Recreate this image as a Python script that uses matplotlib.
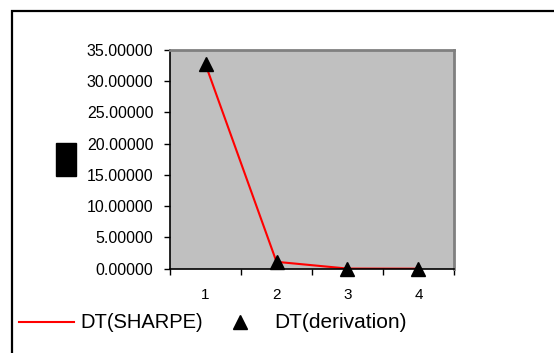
import matplotlib.pyplot as plt
from matplotlib.patches import Rectangle
from matplotlib.lines import Line2D

plt.rcParams['font.family'] = ['Liberation Sans', 'DejaVu Sans']

steps = [1, 2, 3, 4]
dt_sharpe = [32.7, 1.1, 0.02, 0.0]
dt_derivation = [32.75, 1.0, 0.0, 0.0]
yticks = [0, 5, 10, 15, 20, 25, 30, 35]

W, H = 554, 353
fig = plt.figure(figsize=(W / 100, H / 100), dpi=100)
ax = fig.add_axes([170 / W, 1 - 268.7 / H, 284 / W, 218.7 / H])
ax.set_facecolor('#c0c0c0')

ax.plot(steps, dt_sharpe, color='#ff0000', lw=1.5, zorder=2)
ax.plot(steps, dt_derivation, ls='none', marker='^', ms=10, color='black',
        zorder=3, clip_on=False)

ax.set_xlim(0.5, 4.5)
ax.set_ylim(0, 35)
ax.set_yticks(yticks)
ax.set_yticklabels(['%.5f' % v for v in yticks], fontsize=11.5)
ax.set_xticks([0.5, 1.5, 2.5, 3.5, 4.5])
ax.set_xticklabels([])
ax.set_xticks(steps, minor=True)
ax.set_xticklabels([str(s) for s in steps], minor=True, fontsize=11)
ax.tick_params(axis='x', which='minor', length=0, pad=14)
ax.tick_params(axis='x', which='major', length=4, width=1, direction='out')
ax.tick_params(axis='y', length=4, width=1, direction='out', pad=8)

for side in ['top', 'right']:
    ax.spines[side].set_color('#808080')
    ax.spines[side].set_linewidth(2)
for side in ['left', 'bottom']:
    ax.spines[side].set_color('black')
    ax.spines[side].set_linewidth(1.2)

# outer chart frame (runs off the right and bottom edges)
top = 1 - 11 / H
fig.add_artist(Rectangle((11.5 / W, -0.2), 1.2, top + 0.2,
                         transform=fig.transFigure, fill=False, ec='black', lw=1.6))
# y-axis title block
fig.add_artist(Rectangle((56 / W, 1 - 176 / H), 20 / W, 33 / H,
                         transform=fig.transFigure, color='black'))

# legend row
ly = 1 - 322 / H
fig.add_artist(Line2D([19 / W, 74 / W], [ly, ly], transform=fig.transFigure,
                      color='#ff0000', lw=1.5))
fig.text(80 / W, ly, 'DT(SHARPE)', fontsize=14.5, va='center', ha='left')
fig.add_artist(Line2D([240 / W], [ly], transform=fig.transFigure, ls='none',
                      marker='^', ms=10, color='black'))
fig.text(274 / W, ly, 'DT(derivation)', fontsize=15, va='center', ha='left')

fig.savefig('out.png', dpi=100)
